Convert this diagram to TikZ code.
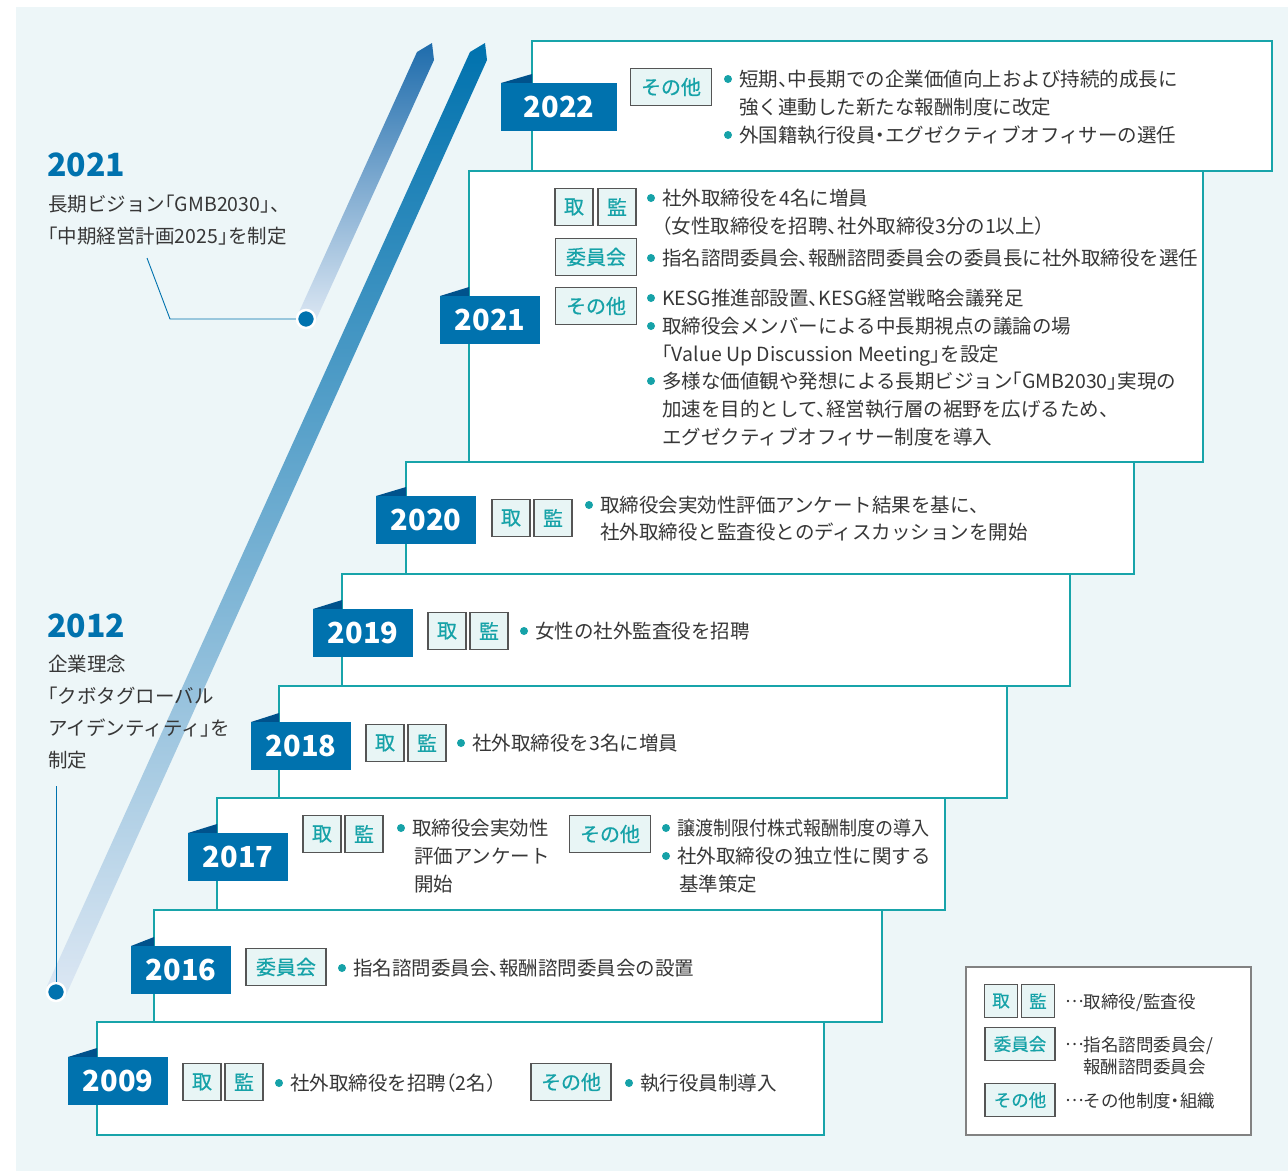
\documentclass[tikz,border=0pt]{standalone}
\usepackage{fontspec}
\usepackage{graphicx}
\setmainfont{Noto Sans CJK JP}[RawFeature=+halt]
\newfontfamily\tagfont{Noto Sans CJK JP}[RawFeature=+halt, FakeBold=0.6]
\usetikzlibrary{positioning}

\definecolor{bgpale}{RGB}{237,246,248}
\definecolor{stepteal}{RGB}{24,164,170}
\definecolor{flagblue}{RGB}{0,114,174}
\definecolor{flagdark}{RGB}{0,82,140}
\definecolor{bartop}{RGB}{30,108,172}
\definecolor{barmid}{RGB}{128,164,208}
\definecolor{barpale}{RGB}{220,231,243}
\definecolor{tagfill}{RGB}{232,245,245}
\definecolor{tagline}{RGB}{85,85,85}
\definecolor{tagtext}{RGB}{22,162,168}
\definecolor{bodytext}{RGB}{55,55,55}
\definecolor{legline}{RGB}{130,130,130}

\tikzset{
  steprect/.style={draw=stepteal, line width=2.2pt, fill=white},
  flag/.style={fill=flagblue, text=white, font=\fontsize{29}{29}\selectfont\bfseries,
    minimum height=48pt, inner sep=0pt, anchor=north west},
  tagmark/.style={draw=tagline, line width=1.2pt, fill=tagfill, text=tagtext,
    font=\tagfont\fontsize{20}{20}\selectfont, minimum height=37pt, inner sep=0pt},
  legtag/.style={tagmark, font=\tagfont\fontsize{17.5}{17.5}\selectfont, minimum height=33pt},
  txt/.style={text=bodytext, font=\fontsize{19.5}{19.5}\selectfont, anchor=west,
    inner sep=0pt, text height=17.2pt, text depth=2.3pt},
  legtxt/.style={txt, font=\fontsize{17.5}{17.5}\selectfont, text height=15.4pt, text depth=2.1pt},
  yeartxt/.style={text=flagblue, font=\fontsize{32}{32}\selectfont\bfseries, anchor=west, inner sep=0pt},
  dotnode/.style={circle, fill=flagblue, draw=white, line width=2.5pt, minimum size=18pt, inner sep=0pt},
  leader/.style={draw=flagblue, line width=0.9pt},
  legbox/.style={draw=legline, line width=1.5pt, fill=white},
}

% name, box left, box top, box right, box bottom, flag left, flag top, flag width, year
\newcommand{\yearstep}[9]{
    \draw[steprect] (#2,#3) rectangle (#4,#5);
    \fill[flagdark] (#6,#7) -- (#2,#7-9) -- (#2,#7) -- cycle;
    \node[flag, minimum width=#8pt] (#1) at (#6,#7) {#9};
}
% name, x, y, width, text
\newcommand{\tagat}[5]{
    \node[tagmark, minimum width=#4pt] (#1) at (#2,#3) {#5};
}
% name, x, y, text
\newcommand{\bitem}[4]{
    \node[txt] (#1) at (#2,#3) {#4};
    \fill[tagtext] ([xshift=-11pt]#1.west) circle (4pt);
}
\newcommand{\nline}[4]{
    \node[txt] (#1) at (#2,#3) {#4};
}
\newcommand{\middots}{\raisebox{0.33em}{…}}

\begin{document}
\begin{tikzpicture}[x=1pt,y=-1pt]
  \useasboundingbox (0,0) rectangle (1288,1171);
  \fill[bgpale] (16,7) rectangle (1288,1171);

  % slanted bars
  \shade[top color=bartop, middle color=barmid!80, bottom color=barpale]
    (299,312) -- (417,52) -- (432,43) -- (434,60) -- (315,322) -- cycle;
  \shade[top color=flagblue, middle color=barmid, bottom color=barpale]
    (47,986) -- (470,52) -- (485,43) -- (487,60) -- (66,995) -- cycle;

  \node[dotnode] (d21) at (306,319) {};
  \node[dotnode] (d12) at (56,992) {};
  \coordinate (l21) at (147,258);
  \coordinate (k21) at (170,319);
  \draw[leader] (l21) -- (k21) -- (d21);
  \coordinate (l12) at (56,786);
  \draw[leader] (l12) -- (d12);

  \node[yeartxt] (y21) at (47,165) {2021};
  \nline{m21a}{48}{204}{長期ビジョン「GMB2030」、}
  \nline{m21b}{48}{236}{「中期経営計画2025」を制定}

  \node[yeartxt] (y12) at (47,626) {2012};
  \nline{m12a}{48}{664}{企業理念}
  \nline{m12b}{48}{696}{「クボタグローバル}
  \nline{m12c}{48}{728}{アイデンティティ」を}
  \nline{m12d}{48}{760}{制定}

  % 2022
  \yearstep{s22}{532}{41}{1272}{171}{501}{83}{116}{2022}
  \tagat{t22}{671}{87}{81}{その他}
  \bitem{b22a}{739}{79}{短期、中長期での企業価値向上および持続的成長に}
  \nline{b22b}{739}{107}{強く連動した新たな報酬制度に改定}
  \bitem{b22c}{739}{135}{外国籍執行役員・エグゼクティブオフィサーの選任}

  % 2021
  \yearstep{s21}{469}{171}{1203}{462}{440}{296}{100}{2021}
  \tagat{t21a}{574}{207}{38}{取}
  \tagat{t21b}{617}{207}{38}{監}
  \tagat{t21c}{596}{257}{81}{委員会}
  \tagat{t21d}{596}{306}{81}{その他}
  \bitem{b21a}{662}{198}{社外取締役を4名に増員}
  \nline{b21b}{662}{226}{（女性取締役を招聘、社外取締役3分の1以上）}
  \bitem{b21c}{662}{258}{指名諮問委員会、報酬諮問委員会の委員長に社外取締役を選任}
  \bitem{b21d}{662}{298}{KESG推進部設置、KESG経営戦略会議発足}
  \bitem{b21e}{662}{326}{取締役会メンバーによる中長期視点の議論の場}
  \nline{b21f}{662}{354}{「Value Up Discussion Meeting」を設定}
  \bitem{b21g}{662}{381}{多様な価値観や発想による長期ビジョン「GMB2030」実現の}
  \nline{b21h}{662}{409}{加速を目的として、経営執行層の裾野を広げるため、}
  \nline{b21i}{662}{437}{エグゼクティブオフィサー制度を導入}

  % 2020
  \yearstep{s20}{406}{462}{1134}{574}{376}{496}{100}{2020}
  \tagat{t20a}{511}{518}{38}{取}
  \tagat{t20b}{553}{518}{38}{監}
  \bitem{b20a}{600}{505}{取締役会実効性評価アンケート結果を基に、}
  \nline{b20b}{600}{532}{社外取締役と監査役とのディスカッションを開始}

  % 2019
  \yearstep{s19}{342}{574}{1070}{686}{313}{609}{100}{2019}
  \tagat{t19a}{447}{631}{38}{取}
  \tagat{t19b}{489}{631}{38}{監}
  \bitem{b19a}{535}{631}{女性の社外監査役を招聘}

  % 2018
  \yearstep{s18}{279}{686}{1007}{798}{251}{722}{100}{2018}
  \tagat{t18a}{385}{743}{38}{取}
  \tagat{t18b}{427}{743}{38}{監}
  \bitem{b18a}{472}{743}{社外取締役を3名に増員}

  % 2017
  \yearstep{s17}{217}{798}{945}{910}{188}{833}{100}{2017}
  \tagat{t17a}{322}{834}{38}{取}
  \tagat{t17b}{364}{834}{38}{監}
  \tagat{t17c}{610}{834}{81}{その他}
  \bitem{b17a}{412}{828}{取締役会実効性}
  \nline{b17b}{414}{856}{評価アンケート}
  \nline{b17c}{414}{884}{開始}
  \bitem{b17d}{677}{828}{\scalebox{0.925}[1]{譲渡制限付株式報酬制度の導入}}
  \bitem{b17e}{677}{856}{社外取締役の独立性に関する}
  \nline{b17f}{679}{884}{基準策定}

  % 2016
  \yearstep{s16}{154}{910}{882}{1022}{131}{946}{100}{2016}
  \tagat{t16a}{286}{967}{80}{委員会}
  \bitem{b16a}{353}{968}{指名諮問委員会、報酬諮問委員会の設置}

  % 2009
  \yearstep{s09}{97}{1022}{824}{1135}{68}{1057}{100}{2009}
  \tagat{t09a}{202}{1082}{38}{取}
  \tagat{t09b}{244}{1082}{38}{監}
  \tagat{t09c}{571}{1082}{80}{その他}
  \bitem{b09a}{290}{1083}{社外取締役を招聘（2名）}
  \bitem{b09b}{640}{1083}{執行役員制導入}

  % legend
  \draw[legbox] (966,967) rectangle (1251,1135);
  \node[legtag, minimum width=33pt] (g1) at (1001,1001) {取};
  \node[legtag, minimum width=33pt] (g2) at (1038,1001) {監};
  \node[legtag, minimum width=70pt] (g3) at (1020,1044) {委員会};
  \node[legtag, minimum width=70pt] (g4) at (1020,1100) {その他};
  \node[legtxt] (h1) at (1065,1002) {\middots 取締役/監査役};
  \node[legtxt] (h2) at (1065,1045) {\middots 指名諮問委員会/};
  \node[legtxt] (h3) at (1083,1067) {報酬諮問委員会};
  \node[legtxt] (h4) at (1065,1101) {\middots その他制度・組織};
\end{tikzpicture}
\end{document}
